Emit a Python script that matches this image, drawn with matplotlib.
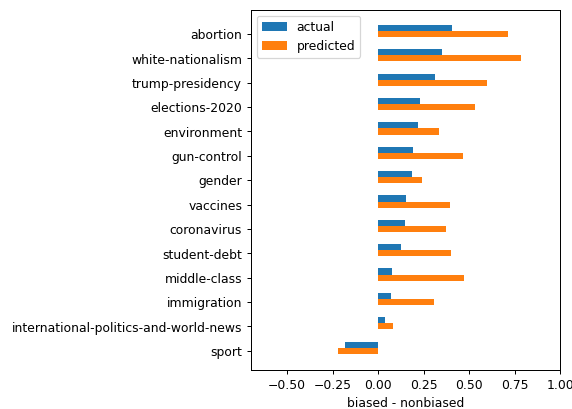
import numpy as np
import matplotlib
matplotlib.use("Agg")
import matplotlib.pyplot as plt

categories = [
    "abortion", "white-nationalism", "trump-presidency", "elections-2020",
    "environment", "gun-control", "gender", "vaccines", "coronavirus",
    "student-debt", "middle-class", "immigration",
    "international-politics-and-world-news", "sport",
]
actual = [0.403, 0.350, 0.310, 0.229, 0.216, 0.189, 0.185, 0.154, 0.145,
          0.125, 0.077, 0.068, 0.037, -0.183]
predicted = [0.712, 0.784, 0.599, 0.531, 0.335, 0.467, 0.242, 0.394, 0.370,
             0.401, 0.471, 0.306, 0.081, -0.223]

DPI = 89
fig = plt.figure(figsize=(572.3 / DPI, 409.3 / DPI), dpi=DPI)
ax = fig.add_axes([0.4383, 0.0954, 0.979 - 0.4383, 0.9756 - 0.0954])

y = np.arange(len(categories))
h = 0.25
ax.barh(y - h, actual, height=h, color="tab:blue", label="actual")
ax.barh(y, predicted, height=h, color="tab:orange", label="predicted")

ax.set_yticks(y)
ax.set_yticklabels(categories)
ax.set_ylim(13.79, -1.0)
ax.set_xlim(-0.7, 1.0)
ax.set_xticks([-0.5, -0.25, 0.0, 0.25, 0.5, 0.75, 1.0])
ax.set_xlabel("biased - nonbiased")
ax.legend(loc="upper left")

fig.savefig("out.png", dpi=DPI)
